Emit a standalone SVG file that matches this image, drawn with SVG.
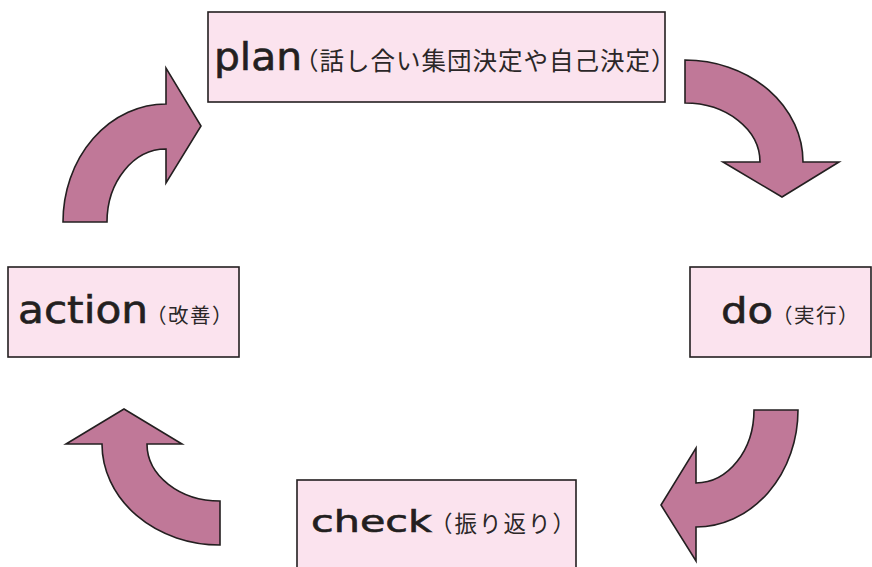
<svg xmlns="http://www.w3.org/2000/svg" width="872" height="567" viewBox="0 0 872 567">
<style>
.box{fill:#fbe3ee;stroke:#231f20;stroke-width:1.6}
.arrow{fill:#c07898;stroke:#231f20;stroke-width:1.6;stroke-linejoin:miter}
.en{font-family:"DejaVu Sans","Liberation Sans",sans-serif;fill:#231f20;stroke:#231f20;stroke-width:0.6}
.jp{font-family:"Noto Sans CJK JP","Noto Sans",sans-serif;fill:#2b2728}
</style>
<rect width="872" height="567" fill="#ffffff"/>
<g id="connectors">
<path class="arrow" d="M63,222 A103,118 0 0 1 166,104 L166,68 L201,126 L166,183 L166,149 A59,73 0 0 0 107,222 Z"/>
<path class="arrow" d="M685,60 A118,102 0 0 1 803,162 L839,162 L782,197 L723,162 L760,162 A75,59 0 0 0 685,103 Z"/>
<path class="arrow" d="M798,410 A102,117 0 0 1 696,527 L696,561 L661,505 L696,448 L696,483 A58,73 0 0 0 754,410 Z"/>
<path class="arrow" d="M220,545 A118,101 0 0 1 102,444 L66,444 L124,409 L182,444 L147,444 A73,57 0 0 0 220,501 Z"/>
</g>
<g id="plan">
<rect class="box" x="208" y="12" width="457" height="90"/>
<text class="en" x="214" y="70" font-size="37" textLength="88" lengthAdjust="spacingAndGlyphs">plan</text>
<text class="jp" x="294" y="70" font-size="24.5" letter-spacing="1">（話し合い集団決定や自己決定）</text>
</g>
<g id="do">
<rect class="box" x="690" y="267" width="181" height="90"/>
<text class="en" x="721" y="323" font-size="35" textLength="52" lengthAdjust="spacingAndGlyphs">do</text>
<text class="jp" x="772" y="323" font-size="20.5" letter-spacing="1.5">（実行）</text>
</g>
<g id="check">
<rect class="box" x="297" y="480" width="279" height="95"/>
<text class="en" x="311" y="532" font-size="31" textLength="121" lengthAdjust="spacingAndGlyphs">check</text>
<text class="jp" x="430" y="532" font-size="22.5" letter-spacing="2">（振り返り）</text>
</g>
<g id="action">
<rect class="box" x="8" y="267" width="231" height="90"/>
<text class="en" x="18" y="323" font-size="37" textLength="130" lengthAdjust="spacingAndGlyphs">action</text>
<text class="jp" x="146" y="323" font-size="20.5" letter-spacing="1.5">（改善）</text>
</g>
</svg>
